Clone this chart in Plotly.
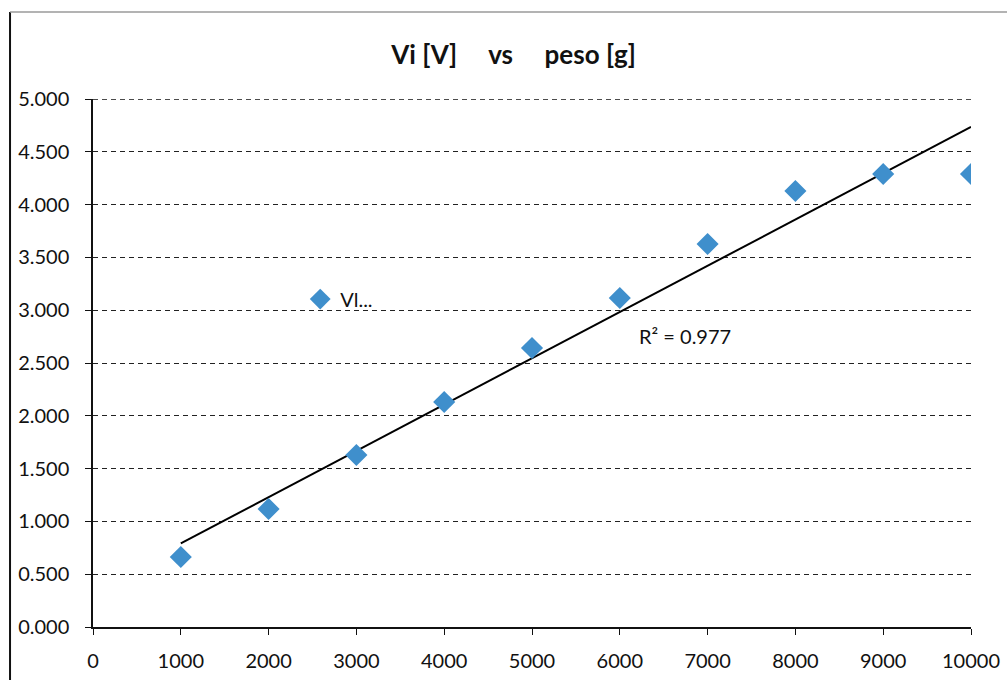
import numpy as np
import plotly.graph_objects as go

# Measured weight [g] and output voltage Vi [V]
peso_g = [1000, 2000, 3000, 4000, 5000, 6000, 7000, 8000, 9000, 10000]
vi_v = [0.663, 1.117, 1.629, 2.130, 2.642, 3.116, 3.627, 4.129, 4.290, 4.290]
r2_label = "R² = 0.977"
y_ticks = [0.0, 0.5, 1.0, 1.5, 2.0, 2.5, 3.0, 3.5, 4.0, 4.5, 5.0]
x_ticks = [0, 1000, 2000, 3000, 4000, 5000, 6000, 7000, 8000, 9000, 10000]
x_tick_text = [str(v) for v in x_ticks]

# Linear trendline (least squares) over the measured range
slope, intercept = np.polyfit(peso_g, vi_v, 1)
trend_x = np.array([min(peso_g), max(peso_g)])
trend_y = slope * trend_x + intercept

FONT = "Lato, 'Open Sans', sans-serif"
GRID = dict(color="#222", width=1.2, dash="5px,4px")

fig = go.Figure()
fig.add_trace(go.Scatter(
    x=trend_x, y=trend_y, mode="lines",
    line=dict(color="black", width=2),
    showlegend=False, hoverinfo="skip",
))
fig.add_trace(go.Scatter(
    x=peso_g, y=vi_v, mode="markers", name="Vl...",
    marker=dict(symbol="diamond", size=17, color="#3f8fcc",
                line=dict(width=0)),
))

fig.add_annotation(
    x=6200, y=2.76, xref="x", yref="y", text=r2_label,
    showarrow=False, xanchor="left", yanchor="middle",
    font=dict(family=FONT, size=20, color="#111"),
)

# Top gridline sits on the plot edge, so draw it explicitly
fig.add_shape(type="line", xref="paper", yref="y",
              x0=0, x1=1, y0=max(y_ticks), y1=max(y_ticks),
              line=dict(color="#111", width=1.5, dash=GRID["dash"]),
              layer="below")

# Outer frame edges of the chart area
fig.add_shape(type="line", xref="paper", yref="paper",
              x0=-0.0945, x1=-0.0945, y0=1.165, y1=-0.11,
              line=dict(color="#111", width=2))
fig.add_shape(type="line", xref="paper", yref="paper",
              x0=-0.0945, x1=1.045, y0=1.165, y1=1.165,
              line=dict(color="#9a9a9a", width=1.5))

sp = "\u00a0" * 5
fig.update_layout(
    width=1007, height=680,
    margin=dict(l=93, r=36, t=99, b=53, autoexpand=False),
    paper_bgcolor="white", plot_bgcolor="white",
    font=dict(family=FONT, size=20, color="#111"),
    title=dict(
        text=f"<b>Vi [V]{sp}vs{sp}peso [g]</b>",
        x=0.51, xanchor="center", y=0.92, yanchor="middle",
        font=dict(family=FONT, size=26, color="#111"),
    ),
    legend=dict(
        x=0.236, y=0.621, xanchor="left", yanchor="middle",
        bgcolor="rgba(0,0,0,0)", borderwidth=0,
        font=dict(family=FONT, size=20, color="#111"),
    ),
    xaxis=dict(
        range=[0, 10000], tickvals=x_ticks, ticktext=x_tick_text,
        showgrid=False, zeroline=False, automargin=False,
        showline=True, linecolor="#111", linewidth=1.5,
        ticks="outside", ticklen=6, tickcolor="#111",
        ticklabelstandoff=9,
    ),
    yaxis=dict(
        range=[0, 5], tickvals=y_ticks, tickformat=".3f",
        showgrid=True, gridcolor=GRID["color"], gridwidth=GRID["width"],
        griddash=GRID["dash"],
        zeroline=False, automargin=False,
        showline=True, linecolor="#111", linewidth=1.5,
        ticks="outside", ticklen=6, tickcolor="#111",
        ticklabelstandoff=12,
    ),
)

fig.write_html("out.html")
